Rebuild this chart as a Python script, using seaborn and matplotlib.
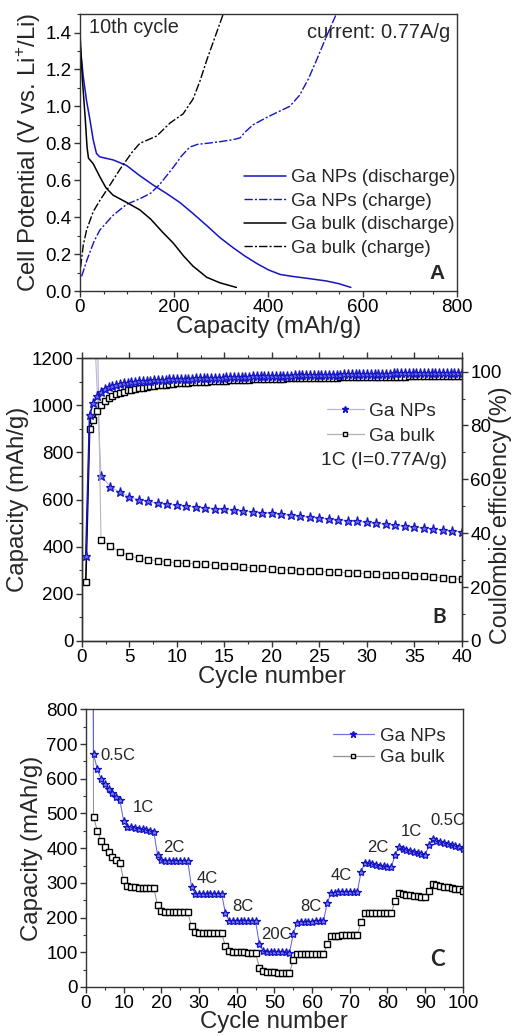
import numpy as np
import matplotlib
matplotlib.use("Agg")
import matplotlib.pyplot as plt
from matplotlib.lines import Line2D
from matplotlib.ticker import MultipleLocator
import seaborn as sns

# ---- Panel A: 10th cycle voltage profiles ----
np_dis_cap = [0, 7, 14, 21, 28, 35, 42, 71, 99, 127, 155, 183, 212, 240, 269, 297,
              325, 350, 375, 400, 425, 450, 480, 523, 550, 575]
np_dis_v = [1.34, 1.16, 1.03, 0.93, 0.82, 0.745, 0.727, 0.71, 0.68, 0.625, 0.575, 0.53,
            0.48, 0.42, 0.355, 0.29, 0.235, 0.19, 0.15, 0.115, 0.09, 0.08, 0.07, 0.055,
            0.04, 0.02]
np_chg_cap = [3.5, 15, 30, 42, 70, 99, 127, 150, 170, 198, 215, 233, 250, 269, 300,
              325, 340, 350, 367, 396, 420, 445, 466, 485, 502, 520, 544]
np_chg_v = [0.08, 0.17, 0.27, 0.33, 0.41, 0.47, 0.50, 0.53, 0.58, 0.67, 0.73, 0.78,
            0.795, 0.80, 0.81, 0.82, 0.83, 0.86, 0.90, 0.94, 0.97, 1.00, 1.06, 1.15,
            1.25, 1.36, 1.50]
bk_dis_cap = [0, 5, 11, 15, 18, 28, 42, 55, 70, 99, 127, 150, 175, 198, 220, 240, 269,
              297, 332]
bk_dis_v = [1.40, 1.15, 0.94, 0.78, 0.72, 0.69, 0.62, 0.56, 0.52, 0.48, 0.44, 0.39,
            0.32, 0.26, 0.19, 0.135, 0.075, 0.045, 0.02]
bk_chg_cap = [1.4, 7, 14, 28, 42, 60, 85, 110, 127, 145, 163, 191, 219, 240, 255, 269,
              290, 304]
bk_chg_v = [0.13, 0.25, 0.33, 0.43, 0.49, 0.56, 0.66, 0.75, 0.80, 0.82, 0.84, 0.91,
            0.96, 1.04, 1.14, 1.25, 1.40, 1.50]

# ---- Panel B: cycling at 1C ----
cyc_b = list(range(1, 41))
np_cap_b = [1600, 700, 655, 630, 612, 600, 592, 585, 580, 576, 572, 568, 565, 561, 558,
            555, 552, 548, 545, 541, 537, 533, 529, 526, 522, 518, 514, 511, 507, 503,
            499, 495, 491, 487, 483, 479, 475, 471, 467, 462]
bk_cap_b = [2800, 430, 402, 378, 362, 350, 345, 340, 336, 331, 329, 327, 325, 322, 319,
            316, 313, 311, 308, 305, 303, 301, 299, 297, 295, 293, 291, 290, 288, 286,
            284, 282, 280, 278, 276, 274, 271, 268, 265, 261]
ce_x = [round(0.4 * k, 1) for k in range(1, 101)]
np_ce = [31.5, 84.0, 88.3, 90.9, 92.6, 93.6, 94.3, 94.8, 95.2, 95.5,
         95.7, 95.9, 96.1, 96.2, 96.4, 96.5, 96.6, 96.7, 96.8, 96.9,
         97.0, 97.0, 97.1, 97.2, 97.2, 97.3, 97.3, 97.4, 97.4, 97.5,
         97.5, 97.6, 97.6, 97.7, 97.7, 97.8, 97.8, 97.9, 97.9, 98.0,
         98.0, 98.0, 98.1, 98.1, 98.2, 98.2, 98.2, 98.3, 98.3, 98.4,
         98.4, 98.4, 98.5, 98.5, 98.5, 98.6, 98.6, 98.6, 98.7, 98.7,
         98.7, 98.8, 98.8, 98.8, 98.9, 98.9, 98.9, 98.9, 99.0, 99.0,
         99.0, 99.0, 99.1, 99.1, 99.1, 99.1, 99.2, 99.2, 99.2, 99.2,
         99.2, 99.3, 99.3, 99.3, 99.3, 99.3, 99.4, 99.4, 99.4, 99.4,
         99.4, 99.4, 99.5, 99.5, 99.5, 99.5, 99.5, 99.5, 99.6, 99.6]
bk_ce = [22.0, 78.6, 82.0, 85.3, 87.5, 89.0, 90.1, 90.9, 91.6, 92.2,
         92.6, 93.0, 93.3, 93.6, 93.9, 94.1, 94.3, 94.5, 94.7, 94.9,
         95.0, 95.2, 95.3, 95.4, 95.6, 95.7, 95.8, 95.9, 96.0, 96.1,
         96.2, 96.3, 96.3, 96.4, 96.5, 96.6, 96.6, 96.7, 96.8, 96.8,
         96.9, 96.9, 97.0, 97.0, 97.1, 97.1, 97.2, 97.2, 97.3, 97.3,
         97.4, 97.4, 97.4, 97.5, 97.5, 97.5, 97.6, 97.6, 97.6, 97.7,
         97.7, 97.7, 97.7, 97.8, 97.8, 97.8, 97.8, 97.9, 97.9, 97.9,
         97.9, 97.9, 98.0, 98.0, 98.0, 98.0, 98.0, 98.0, 98.1, 98.1,
         98.1, 98.1, 98.1, 98.1, 98.1, 98.2, 98.2, 98.2, 98.2, 98.2,
         98.2, 98.2, 98.3, 98.3, 98.3, 98.3, 98.3, 98.3, 98.3, 98.3]

# ---- Panel C: rate capability ----
cyc_c = list(range(1, 101))
np_cap_c = [4000, 672, 627, 600, 585, 570, 558, 548, 538, 478,
            462, 460, 458, 456, 454, 452, 450, 447, 380, 365,
            364, 364, 364, 364, 364, 364, 364, 288, 268, 268,
            268, 268, 268, 268, 268, 268, 212, 191, 190, 190,
            190, 190, 190, 190, 189, 124, 103, 101, 100, 100,
            100, 100, 100, 99, 153, 185, 186, 187, 188, 188,
            189, 189, 189, 242, 270, 272, 274, 275, 275, 275,
            275, 275, 332, 358, 356, 354, 352, 350, 348, 347,
            345, 380, 402, 398, 394, 391, 388, 385, 382, 379,
            410, 425, 422, 418, 415, 412, 408, 405, 402, 399]
bk_cap_c = [4000, 490, 450, 422, 402, 388, 375, 365, 358, 308,
            292, 288, 287, 286, 286, 285, 285, 285, 235, 218,
            217, 216, 216, 215, 215, 215, 215, 175, 158, 157,
            156, 156, 155, 155, 155, 155, 118, 104, 102, 101,
            100, 100, 99, 99, 98, 55, 45, 43, 42, 42,
            41, 41, 41, 41, 78, 95, 95, 95, 95, 94,
            94, 94, 94, 125, 147, 148, 148, 149, 149, 149,
            150, 150, 188, 212, 213, 213, 214, 214, 214, 214,
            214, 248, 270, 268, 266, 265, 263, 262, 260, 258,
            278, 296, 293, 291, 289, 287, 285, 283, 281, 278]
rate_labels = ["0.5C", "1C", "2C", "4C", "8C", "20C", "8C", "4C", "2C", "1C", "0.5C"]
rate_x = [3.7, 12.4, 20.5, 29.4, 38.7, 46.6, 56.8, 64.8, 74.5, 83.4, 91.5]
rate_y = [668, 517, 403, 312, 232, 151, 232, 322, 403, 447, 480]

BLUE = "#1414c4"
sns.set_style("ticks")
plt.rcParams["font.family"] = ["Liberation Sans", "DejaVu Sans"]
plt.rcParams["mathtext.fontset"] = "custom"
plt.rcParams["mathtext.rm"] = "Liberation Sans"
plt.rcParams["axes.edgecolor"] = "#333333"
plt.rcParams["xtick.color"] = "#333333"
plt.rcParams["ytick.color"] = "#333333"
plt.rcParams["xtick.labelcolor"] = "black"
plt.rcParams["ytick.labelcolor"] = "black"

TICK = 13.5
LAB = 17.3

fig = plt.figure(figsize=(5.17, 10.36), dpi=100)
axA = fig.add_axes([0.1547, 0.719, 0.729, 0.2674])
axB = fig.add_axes([0.1586, 0.3813, 0.735, 0.273])
axC = fig.add_axes([0.1663, 0.0473, 0.729, 0.268])


def style(ax):
    for s in ax.spines.values():
        s.set_linewidth(1.0)
    ax.tick_params(which="major", length=4.5, width=1, labelsize=TICK, pad=1.5)
    ax.tick_params(which="minor", length=2.5, width=0.8)


# Panel A
dd = (6, 1.5, 1.5, 1.5)
sns.lineplot(x=np_dis_cap, y=np_dis_v, ax=axA, color=BLUE, lw=1.1, sort=False,
             label="Ga NPs (discharge)")
sns.lineplot(x=np_chg_cap, y=np_chg_v, ax=axA, color=BLUE, lw=1.0, sort=False,
             dashes=dd, label="Ga NPs (charge)")
sns.lineplot(x=bk_dis_cap, y=bk_dis_v, ax=axA, color="black", lw=1.1, sort=False,
             label="Ga bulk (discharge)")
sns.lineplot(x=bk_chg_cap, y=bk_chg_v, ax=axA, color="black", lw=1.0, sort=False,
             dashes=dd, label="Ga bulk (charge)")
axA.set_xlim(0, 800)
axA.set_ylim(0, 1.5)
axA.set_yticks(np.arange(0, 1.41, 0.2))
axA.set_yticklabels([f"{v:.1f}" for v in np.arange(0, 1.41, 0.2)])
axA.xaxis.set_minor_locator(MultipleLocator(50))
axA.yaxis.set_minor_locator(MultipleLocator(0.1))
style(axA)
axA.set_xlabel("Capacity (mAh/g)", fontsize=LAB, labelpad=0)
axA.set_ylabel(r"Cell Potential (V vs. Li$^{+}$/Li)", fontsize=LAB, labelpad=2)
axA.text(19, 1.425, "10th cycle", fontsize=14.3, va="center", ha="left")
axA.text(785, 1.40, "current: 0.77A/g", fontsize=14.5, va="center", ha="right")
axA.text(775, 0.097, "A", fontsize=15, fontweight="bold", va="center", ha="right")
axA.legend(loc="upper left", bbox_to_anchor=(0.435, 0.44), frameon=False,
           fontsize=13.5, handlelength=2.25, handletextpad=0.25, labelspacing=0.34,
           borderpad=0, borderaxespad=0)

# Panel B
axB2 = axB.twinx()
sns.lineplot(x=cyc_b, y=np_cap_b, ax=axB, color="#b4b4ea", lw=0.8, marker="*",
             markersize=6.5, markeredgecolor=BLUE, markerfacecolor="#6a6ae6",
             markeredgewidth=0.9)
sns.lineplot(x=cyc_b, y=bk_cap_b, ax=axB, color="#b8b8b8", lw=0.8, marker="s",
             markersize=4, markeredgecolor="black", markerfacecolor="white",
             markeredgewidth=1.0)
sns.lineplot(x=ce_x, y=bk_ce, ax=axB2, color="black", lw=1.2, marker="s",
             markersize=4, markeredgecolor="black", markerfacecolor="white",
             markeredgewidth=1.0)
sns.lineplot(x=ce_x, y=np_ce, ax=axB2, color=BLUE, lw=1.2, marker="*",
             markersize=6.5, markeredgecolor=BLUE, markerfacecolor="#6a6ae6",
             markeredgewidth=0.9)
axB.set_xlim(0, 40)
axB.set_ylim(0, 1200)
axB2.set_ylim(0, 105)
axB.set_xticks(range(0, 41, 5))
axB.set_yticks(range(0, 1201, 200))
axB2.set_yticks(range(0, 101, 20))
axB.xaxis.set_minor_locator(MultipleLocator(2.5))
axB.yaxis.set_minor_locator(MultipleLocator(100))
axB2.yaxis.set_minor_locator(MultipleLocator(10))
style(axB)
style(axB2)
axB.tick_params(axis="x", which="both", top=True)
axB.set_xlabel("Cycle number", fontsize=LAB, labelpad=0)
axB.set_ylabel("Capacity (mAh/g)", fontsize=LAB, labelpad=2)
axB2.set_ylabel("Coulombic efficiency (%)", fontsize=16.8)
axB2.yaxis.set_label_coords(1.072, 0.443)
axB.text(31.8, 767, "1C (I=0.77A/g)", fontsize=13.9, ha="center", va="center")
axB.text(38.3, 100, "B", fontsize=15, fontweight="bold", ha="right", va="center",
         family=["Lato", "DejaVu Sans"])
hB = [Line2D([], [], color="#b4b4ea", lw=0.9, marker="*", ms=5, mec=BLUE, mfc=BLUE),
      Line2D([], [], color="#b0b0b0", lw=0.9, marker="s", ms=3.5, mec="black", mfc="white")]
axB2.legend(hB, ["Ga NPs", "Ga bulk"], loc="upper left", bbox_to_anchor=(0.645, 0.843),
            frameon=False, fontsize=13.8, handlelength=1.9, handletextpad=0.3,
            labelspacing=0.4, borderpad=0, borderaxespad=0)

# Panel C
sns.lineplot(x=cyc_c, y=bk_cap_c, ax=axC, color="#8c8c8c", lw=0.7, marker="s",
             markersize=3.8, markeredgecolor="black", markerfacecolor="white",
             markeredgewidth=1.0)
sns.lineplot(x=cyc_c, y=np_cap_c, ax=axC, color="#5c5ce0", lw=0.7, marker="*",
             markersize=6, markeredgecolor=BLUE, markerfacecolor="#7a7aee",
             markeredgewidth=0.9)
axC.set_xlim(0, 100)
axC.set_ylim(0, 800)
axC.set_xticks(range(0, 101, 10))
axC.set_yticks(range(0, 801, 100))
axC.xaxis.set_minor_locator(MultipleLocator(5))
axC.yaxis.set_minor_locator(MultipleLocator(50))
style(axC)
axC.set_xlabel("Cycle number", fontsize=LAB, labelpad=-1)
axC.set_ylabel("Capacity (mAh/g)", fontsize=LAB, labelpad=2)
for lab, x, y in zip(rate_labels, rate_x, rate_y):
    axC.text(x, y, lab, fontsize=12, ha="left", va="center")
axC.text(95.2, 78, "C", fontsize=16, fontweight="bold", ha="right", va="center",
         family=["Lato", "DejaVu Sans"])
hC = [Line2D([], [], color="#7070e0", lw=0.9, marker="*", ms=5, mec=BLUE, mfc=BLUE),
      Line2D([], [], color="#909090", lw=0.9, marker="s", ms=3.5, mec="black", mfc="white")]
axC.legend(hC, ["Ga NPs", "Ga bulk"], loc="upper left", bbox_to_anchor=(0.655, 0.935),
           frameon=False, fontsize=13.5, handlelength=2.2, handletextpad=0.3,
           labelspacing=0.25, borderpad=0, borderaxespad=0)

fig.savefig("out.png", dpi=100)
